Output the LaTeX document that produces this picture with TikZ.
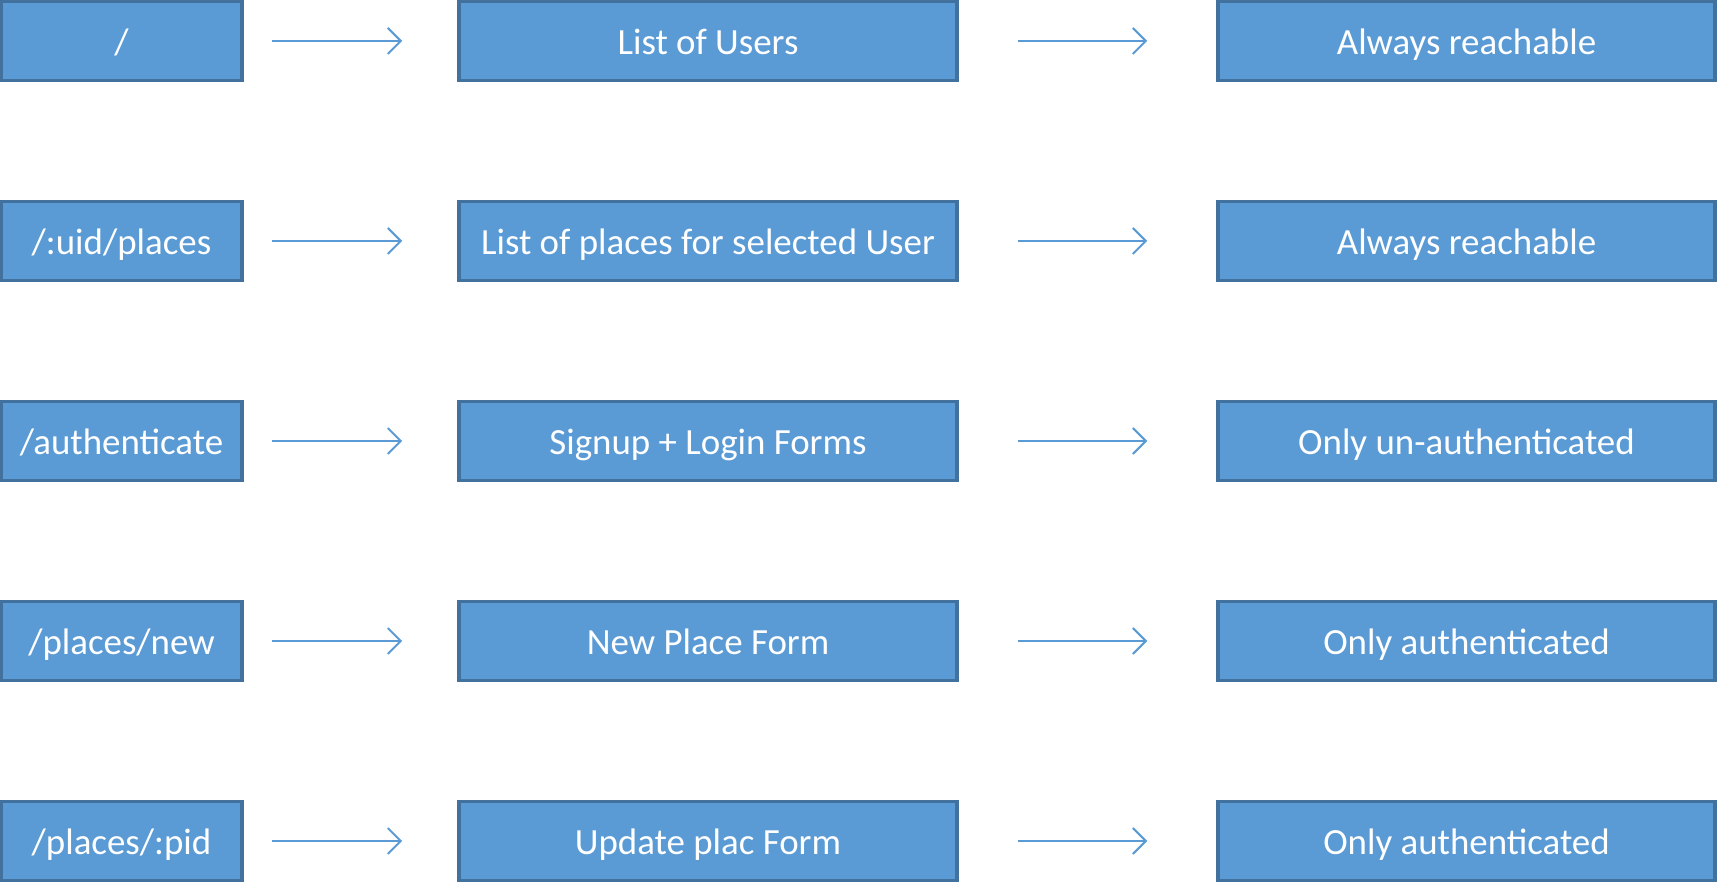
\documentclass[tikz,border=0pt]{standalone}
\usepackage{fontspec}
\setmainfont{Carlito}
\usepackage{tikz}
\usetikzlibrary{arrows.meta,positioning}

\definecolor{boxblue}{HTML}{5B9BD5}
\definecolor{boxline}{HTML}{41719C}

\tikzset{
	routebox/.style={draw=boxline, fill=boxblue, line width=1pt, text=white,
		minimum height=0.79cm, inner sep=0pt, text height=2.0ex, text depth=0.4ex,
		font=\fontsize{10.5}{12}\selectfont},
	link/.style={draw=boxblue, line width=0.6pt, -{Straight Barb[length=1.3mm,width=2.6mm]}}
}

\begin{document}
\begin{tikzpicture}

	\useasboundingbox (0,0) rectangle (17.17,-8.84);

	% routes
	\node[routebox, minimum width=2.41cm] (r1) at (1.215,-0.41) {/};
	\node[routebox, minimum width=2.41cm] (r2) at (1.215,-2.41) {/:uid/places};
	\node[routebox, minimum width=2.41cm] (r3) at (1.215,-4.41) {/authenticate};
	\node[routebox, minimum width=2.41cm] (r4) at (1.215,-6.41) {/places/new};
	\node[routebox, minimum width=2.41cm] (r5) at (1.215,-8.41) {/places/:pid};

	% pages
	\node[routebox, minimum width=4.98cm] (p1) at (7.08,-0.41) {List of Users};
	\node[routebox, minimum width=4.98cm] (p2) at (7.08,-2.41) {List of places for selected User};
	\node[routebox, minimum width=4.98cm] (p3) at (7.08,-4.41) {Signup + Login Forms};
	\node[routebox, minimum width=4.98cm] (p4) at (7.08,-6.41) {New Place Form};
	\node[routebox, minimum width=4.98cm] (p5) at (7.08,-8.41) {Update plac Form};

	% access
	\node[routebox, minimum width=4.97cm] (a1) at (14.665,-0.41) {Always reachable};
	\node[routebox, minimum width=4.97cm] (a2) at (14.665,-2.41) {Always reachable};
	\node[routebox, minimum width=4.97cm] (a3) at (14.665,-4.41) {Only un-authenticated};
	\node[routebox, minimum width=4.97cm] (a4) at (14.665,-6.41) {Only authenticated};
	\node[routebox, minimum width=4.97cm] (a5) at (14.665,-8.41) {Only authenticated};

	\foreach \i in {1,...,5}{
		\draw[link, shorten <=0.28cm, shorten >=0.55cm] (r\i) -- (p\i);
		\draw[link, shorten <=0.59cm, shorten >=0.69cm] (p\i) -- (a\i);
	}

\end{tikzpicture}
\end{document}
